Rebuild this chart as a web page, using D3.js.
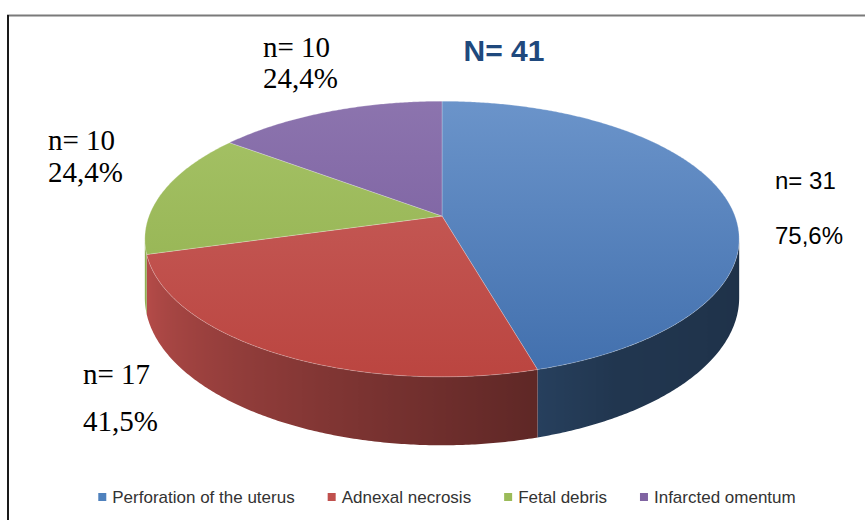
<!DOCTYPE html>
<html>
<head>
<meta charset="utf-8">
<script src="https://cdn.jsdelivr.net/npm/d3@7"></script>
<style>
  body { margin: 0; background: #fff; }
  svg { display: block; }
</style>
</head>
<body>
<div id="chart"></div>
<script>
const categories = ["Perforation of the uterus", "Adnexal necrosis", "Fetal debris", "Infarcted omentum"];
const counts = [31, 17, 10, 10];
const countLabels = ["n= 31", "n= 17", "n= 10", "n= 10"];
const percentLabels = ["75,6%", "41,5%", "24,4%", "24,4%"];
const colours = ["#4f81bd", "#c0504d", "#9bbb59", "#8064a2"];
const topLight = ["#6b94ca", "#c8625f", "#a6c367", "#8c74ae"];
const topDark = ["#416fad", "#bb4540", "#8fae4b", "#74579a"];
const title = "N= 41";

const width = 865, height = 520;

const svg = d3.select("#chart").append("svg")
    .attr("width", width)
    .attr("height", height);

// frame
svg.append("line")
    .attr("x1", 7).attr("x2", width).attr("y1", 15.5).attr("y2", 15.5)
    .attr("stroke", "#7a7a7a").attr("stroke-width", 2);
svg.append("line")
    .attr("x1", 8).attr("x2", 8).attr("y1", 15).attr("y2", height)
    .attr("stroke", "#1a1a1a").attr("stroke-width", 2);

// 3d pie projection (angle clockwise from top, perspective squash)
const cx = 442, cy = 216, W = 293, A = 134, K = 0.167, depth = 57;
const proj = (t, drop) => {
    const s = Math.sin(t), c = Math.cos(t), f = 1 / (1 + K * c);
    return [cx + W * s * f, cy - A * c * f + drop * f];
};

const pie = d3.pie().sort(null).value(d => d)(counts);

const shade = d3.scaleLinear()
    .domain([90, 150, 250, 300])
    .range([0.37, 0.42, 0.93, 0.93])
    .clamp(true);

const defs = svg.append("defs");
colours.forEach((c, i) => {
    const g = defs.append("linearGradient")
        .attr("id", "top" + i)
        .attr("gradientUnits", "userSpaceOnUse")
        .attr("x1", 0).attr("x2", 0).attr("y1", 101).attr("y2", 377);
    g.append("stop").attr("offset", "0%").attr("stop-color", topLight[i]);
    g.append("stop").attr("offset", "100%").attr("stop-color", topDark[i]);
});

// side walls (visible front part only), one path per slice with a horizontal shading gradient
const step = Math.PI / 360;
const edgeA = Math.acos(-K);
const sides = svg.append("g");
pie.forEach((p, i) => {
    const lo = Math.max(p.startAngle, edgeA);
    const hi = Math.min(p.endAngle, 2 * Math.PI - edgeA);
    if (hi <= lo) return;
    const n = Math.ceil((hi - lo) / step);
    const ts = d3.range(n + 1).map(j => lo + (hi - lo) * j / n);
    const top = ts.map(t => proj(t, 0));
    const bot = ts.slice().reverse().map(t => proj(t, depth));
    const d = "M" + top.concat(bot).map(q => q.join(",")).join("L") + "Z";

    const base = d3.rgb(colours[i]);
    const stops = ts.map(t => {
        const k = shade(t * 180 / Math.PI);
        return { off: proj(t, 0)[0] / width, col: d3.rgb(base.r * k, base.g * k, base.b * k).formatHex() };
    }).sort((a, b) => a.off - b.off);

    const g = defs.append("linearGradient")
        .attr("id", "side" + i)
        .attr("gradientUnits", "userSpaceOnUse")
        .attr("x1", 0).attr("x2", width).attr("y1", 0).attr("y2", 0);
    g.selectAll("stop").data(stops).enter().append("stop")
        .attr("offset", s => s.off)
        .attr("stop-color", s => s.col);

    sides.append("path")
        .attr("d", d)
        .attr("fill", `url(#side${i})`);
});

// top faces
const topPath = p => {
    const pts = [[cx, cy]];
    const n = Math.max(2, Math.ceil((p.endAngle - p.startAngle) / step));
    for (let j = 0; j <= n; j++) {
        pts.push(proj(p.startAngle + (p.endAngle - p.startAngle) * j / n, 0));
    }
    return "M" + pts.map(q => q.join(",")).join("L") + "Z";
};

svg.append("g").selectAll("path")
    .data(pie)
    .enter().append("path")
    .attr("d", topPath)
    .attr("fill", (d, i) => `url(#top${i})`)
    .attr("stroke", "#ffffff")
    .attr("stroke-opacity", 0.3)
    .attr("stroke-width", 0.8);

// title
svg.append("text")
    .attr("x", 504).attr("y", 61)
    .attr("text-anchor", "middle")
    .style("font-family", "'Liberation Sans', Arial, sans-serif")
    .style("font-weight", "bold")
    .style("font-size", "30px")
    .style("fill", "#1f497d")
    .text(title);

// data labels (placed by hand like the original)
const labelPos = [
    { x: 775, y1: 189, y2: 244, serif: false },
    { x: 83, y1: 384, y2: 431, serif: true },
    { x: 48, y1: 150, y2: 182, serif: true },
    { x: 263, y1: 57, y2: 88, serif: true }
];

const labels = svg.append("g");
labelPos.forEach((l, i) => {
    const fam = l.serif ? "'Liberation Serif', 'Times New Roman', serif" : "'Liberation Sans', Arial, sans-serif";
    const size = l.serif ? "29px" : "24px";
    labels.append("text")
        .attr("x", l.x).attr("y", l.y1)
        .style("font-family", fam).style("font-size", size).style("fill", "#000")
        .text(countLabels[i]);
    labels.append("text")
        .attr("x", l.x).attr("y", l.y2)
        .style("font-family", fam).style("font-size", size).style("fill", "#000")
        .text(percentLabels[i]);
});

// legend
const legend = svg.append("g");
const legendY = 497;
const items = legend.selectAll("g")
    .data(categories)
    .enter().append("g");

items.append("rect")
    .attr("width", 8).attr("height", 8)
    .attr("y", legendY - 4)
    .attr("fill", (d, i) => colours[i]);

items.append("text")
    .attr("x", 14)
    .attr("y", legendY + 6)
    .style("font-family", "'Liberation Sans', Arial, sans-serif")
    .style("font-size", "17px")
    .style("fill", "#333")
    .text(d => d);

let lx = 0;
const gap = 33;
const offsets = [];
items.each(function() {
    offsets.push(lx);
    lx += 14 + d3.select(this).select("text").node().getComputedTextLength() + gap;
});
const totalW = lx - gap;
const startX = 447 - totalW / 2;
items.attr("transform", (d, i) => `translate(${startX + offsets[i]},0)`);
</script>
</body>
</html>
